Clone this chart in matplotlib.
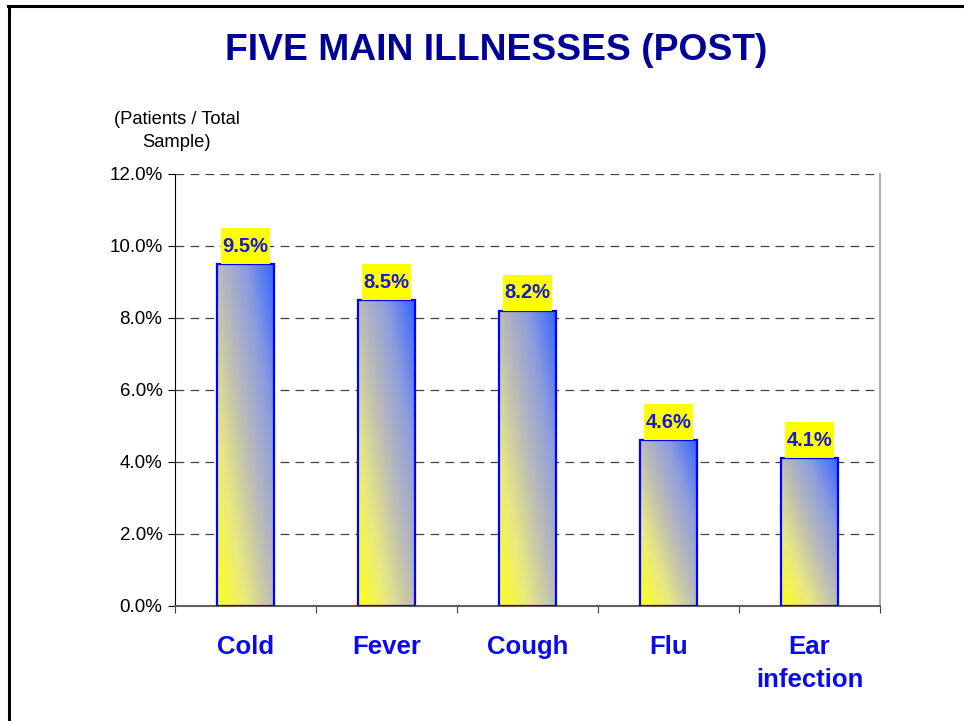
import matplotlib
matplotlib.use("Agg")
import matplotlib.pyplot as plt
import numpy as np
from matplotlib.colors import LinearSegmentedColormap
from matplotlib.patches import Rectangle
from matplotlib.lines import Line2D

plt.rcParams['font.family'] = ['Liberation Sans', 'DejaVu Sans']

illnesses = ['Cold', 'Fever', 'Cough', 'Flu', 'Ear\ninfection']
share = [9.5, 8.5, 8.2, 4.6, 4.1]
value_labels = ['9.5%', '8.5%', '8.2%', '4.6%', '4.1%']
y_ticks = [0, 2, 4, 6, 8, 10, 12]

fig = plt.figure(figsize=(9.64, 7.21), dpi=100)
ax = fig.add_axes([175 / 964, 1 - 606 / 721, 705 / 964, 432 / 721])

# yellow -> grey -> blue gradient used inside each bar
grad = LinearSegmentedColormap.from_list(
    'yb', [(0, '#FFFF1A'), (0.25, '#EAEA80'), (0.5, '#BCBCB8'),
           (0.75, '#8C9BE0'), (1, '#3366FF')])
gx, gy = np.meshgrid(np.linspace(0, 1, 100), np.linspace(0, 1, 200))
gimg = 0.5 * (gx + gy)

x = np.arange(len(illnesses))
bar_w = 0.4
bars = ax.bar(x, share, width=bar_w, facecolor='none', edgecolor='#0000FF',
              linewidth=1.6, zorder=4)
for b, v in zip(bars, share):
    x0 = b.get_x()
    im = ax.imshow(gimg, cmap=grad, origin='lower', aspect='auto',
                   extent=[x0, x0 + bar_w, 0, v], zorder=3, interpolation='bilinear')
    im.set_clip_path(b)

# value labels in yellow boxes
box_w, box_h = 0.35, 1.0
for xi, v, lab in zip(x, share, value_labels):
    ax.add_patch(Rectangle((xi - box_w / 2, v), box_w, box_h, facecolor='#FFFF00',
                           edgecolor='none', zorder=5))
    ax.text(xi, v + box_h / 2, lab, ha='center', va='center', fontsize=14.5,
            fontweight='bold', color='#1A1AD6', zorder=6)

ax.set_xlim(-0.5, len(illnesses) - 0.5)
ax.set_ylim(0, 12)
ax.set_yticks(y_ticks)
ax.set_yticklabels([f'{t:.1f}%' for t in y_ticks], fontsize=13.5)
ax.yaxis.grid(True, linestyle=(0, (7, 5)), color='#404040', linewidth=0.9)
ax.set_axisbelow(True)

ax.set_xticks(np.arange(-0.5, len(illnesses), 1.0))
ax.set_xticklabels([])
ax.set_xticks(x, minor=True)
ax.set_xticklabels(illnesses, minor=True, fontsize=18.5, fontweight='bold',
                   color='#0A0AF0', linespacing=1.45, va='top')
ax.tick_params(axis='x', which='minor', length=0, pad=21)
ax.tick_params(axis='x', which='major', length=5, direction='out', color='#404040')
ax.tick_params(axis='y', length=5, direction='out', pad=4)

ax.spines['top'].set_visible(False)
ax.spines['right'].set_color('#B0B0B0')
ax.spines['right'].set_linewidth(1.5)
ax.spines['bottom'].set_color('#606060')
ax.spines['bottom'].set_linewidth(1.5)
ax.spines['left'].set_color('black')

fig.text(496 / 964, 1 - 50 / 721, 'FIVE MAIN ILLNESSES (POST)', ha='center', va='center',
         fontsize=26.8, fontweight='bold', color='#000099')
fig.text(177 / 964, 1 - 131 / 721, '(Patients / Total\nSample)', ha='center', va='center',
         multialignment='center', fontsize=13.2, linespacing=1.5)

# slide frame (left and top edges only visible)
fig.add_artist(Line2D([8.7 / 964, 8.7 / 964], [0, 1 - 6.2 / 721], transform=fig.transFigure,
                      color='black', linewidth=2.2))
fig.add_artist(Line2D([7.6 / 964, 1], [1 - 6.2 / 721, 1 - 6.2 / 721], transform=fig.transFigure,
                      color='black', linewidth=2.2))

fig.savefig('out.png', dpi=100)
